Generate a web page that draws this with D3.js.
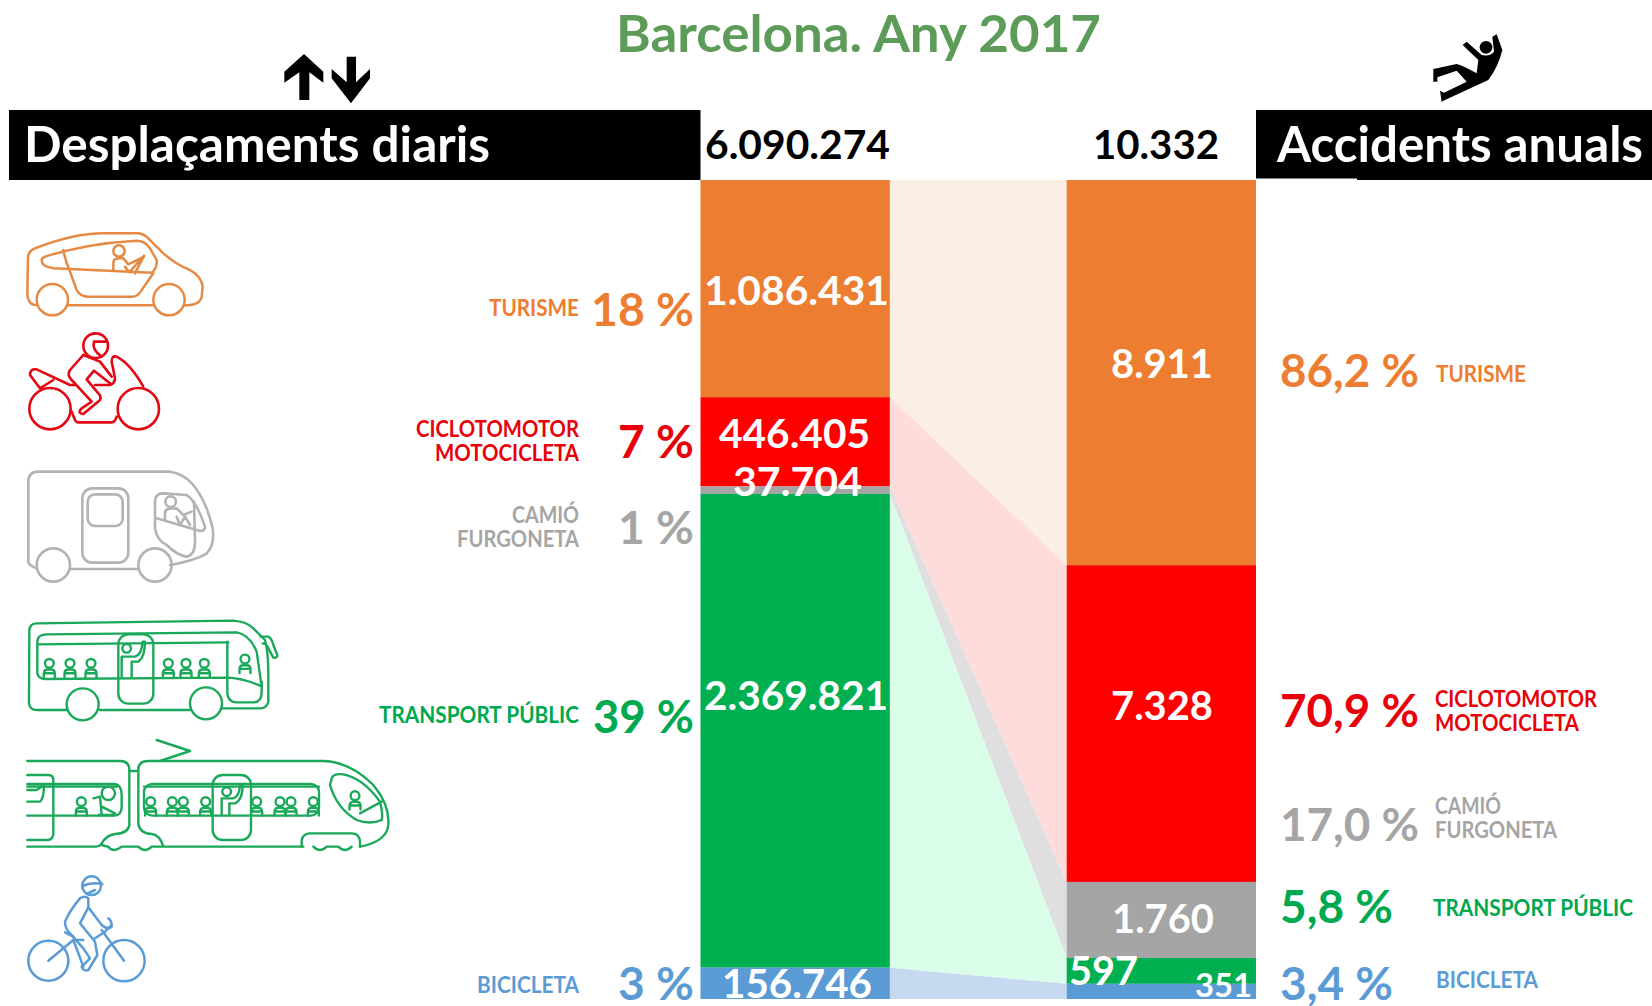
<!DOCTYPE html>
<html lang="ca">
<head>
<meta charset="utf-8">
<title>Barcelona. Any 2017</title>
<script src="https://cdn.jsdelivr.net/npm/d3@7"></script>
<style>
html,body{margin:0;padding:0;background:#fff;overflow:hidden}
text{font-family:Lato,"Open Sans",sans-serif;font-weight:700}
.ico *{fill:none;stroke-linecap:round;stroke-linejoin:round;vector-effect:non-scaling-stroke}
</style>
</head>
<body>
<svg id="chart" width="1652" height="1006" xmlns="http://www.w3.org/2000/svg"></svg>
<script>
// ---- Data ----
const modes = ["Turisme", "Ciclomotor/Motocicleta", "Camió/Furgoneta", "Transport públic", "Bicicleta"];
const modeLabels = [["TURISME"], ["CICLOTOMOTOR", "MOTOCICLETA"], ["CAMIÓ", "FURGONETA"], ["TRANSPORT PÚBLIC"], ["BICICLETA"]];
const dailyTrips = [1086431, 446405, 37704, 2369821, 156746];
const annualAccidents = [8911, 7328, 1760, 597, 351];
const tripShares = ["18 %", "7 %", "1 %", "39 %", "3 %"];
const accidentShares = ["86,2 %", "70,9 %", "17,0 %", "5,8 %", "3,4 %"];
const totalTrips = 6090274;
const totalAccidents = 10332;
const titleText = "Barcelona. Any 2017";
const headerLeft = "Desplaçaments diaris";
const headerRight = "Accidents anuals";

// ---- Styles and layout ----
const colors = ["#ed7d31", "#ff0000", "#a5a5a5", "#00b050", "#5b9bd5"];
const flowColors = ["#fbeee3", "#ffdcdc", "#dfdfdf", "#d9fde9", "#c6d9f0"];
const textColors = ["#ed7d31", "#e8000a", "#a5a5a5", "#00a84f", "#5b9bd5"];
const W = 1652, H = 1006, top0 = 180, bottom0 = 999;

const svg = d3.select("#chart");
const fmt = d3.formatLocale({decimal: ",", thousands: ".", grouping: [3], currency: ["", ""]}).format(",");

const cols = d3.scaleBand().domain(["trips", "accidents"]).range([700.5, 1256]).paddingInner(0.483).paddingOuter(0);
const yTrips = d3.scaleLinear().domain([0, d3.sum(dailyTrips)]).range([top0, bottom0]);
const yAcc = d3.scaleLinear().domain([0, d3.sum(annualAccidents)]).range([top0, bottom0]);

function stackOf(values) { let c = 0; return values.map(v => { const a = c; c += v; return [a, c]; }); }
const sTrips = stackOf(dailyTrips), sAcc = stackOf(annualAccidents);

// text helper: fits the string between x1 and x2
function put(str, x1, x2, base, size, fill, weight) {
  return svg.append("text").attr("x", x1).attr("y", base).attr("font-size", size)
    .attr("fill", fill).attr("font-weight", weight || 700)
    .attr("textLength", x2 - x1).attr("lengthAdjust", "spacingAndGlyphs").text(str);
}

// flows
const flowX0 = cols("trips") + cols.bandwidth(), flowX1 = cols("accidents");
const area = d3.area().x(d => d.x).y0(d => d.y0).y1(d => d.y1);
svg.append("g").selectAll("path").data(modes).join("path")
  .attr("fill", (d, i) => flowColors[i])
  .attr("d", (d, i) => area([
    {x: flowX0, y0: yTrips(sTrips[i][0]), y1: yTrips(sTrips[i][1])},
    {x: flowX1, y0: yAcc(sAcc[i][0]), y1: yAcc(sAcc[i][1])}
  ]));

// bars
svg.append("g").selectAll("rect").data(dailyTrips).join("rect")
  .attr("x", cols("trips")).attr("width", cols.bandwidth())
  .attr("y", (d, i) => yTrips(sTrips[i][0]))
  .attr("height", (d, i) => yTrips(sTrips[i][1]) - yTrips(sTrips[i][0]))
  .attr("fill", (d, i) => colors[i]);
svg.append("g").selectAll("rect").data(annualAccidents).join("rect")
  .attr("x", cols("accidents")).attr("width", cols.bandwidth())
  .attr("y", (d, i) => yAcc(sAcc[i][0]))
  .attr("height", (d, i) => yAcc(sAcc[i][1]) - yAcc(sAcc[i][0]))
  .attr("fill", (d, i) => colors[i]);

// headers
svg.append("rect").attr("x", 9).attr("y", 110).attr("width", 691.5).attr("height", 70).attr("fill", "#000");
svg.append("rect").attr("x", 1256).attr("y", 110).attr("width", 396).attr("height", 68.5).attr("fill", "#000");
svg.append("rect").attr("x", 1357).attr("y", 170).attr("width", 295).attr("height", 10).attr("fill", "#000");
put(headerLeft, 24, 490, 162, 49, "#fff");
put(headerRight, 1277, 1643, 162, 49, "#fff");
put(titleText, 616, 1101, 52, 52, "#5c9c58");
put(fmt(totalTrips), 705, 890, 159, 40, "#000");
put(fmt(totalAccidents), 1093, 1219, 159, 40, "#000");

// value labels in the bars
const tripValuePos = [[704, 889, 305, 41], [719, 870, 448, 41], [733, 862, 496, 41], [704, 888, 710, 41], [722, 872, 998, 41]];
dailyTrips.forEach((v, i) => { const p = tripValuePos[i]; put(fmt(v), p[0], p[1], p[2], p[3], "#fff"); });
const accValuePos = [[1111, 1213, 378, 41], [1111, 1213, 720, 41], [1112, 1214, 933, 41], [1069, 1138, 985, 41], [1195, 1252, 997, 32]];
annualAccidents.forEach((v, i) => { const p = accValuePos[i]; put(fmt(v), p[0], p[1], p[2], p[3], "#fff"); });

// left labels (right edge shared)
const leftLabelPos = [[[489, 316]], [[416, 437], [435, 461]], [[512, 523], [457, 547]], [[379, 723]], [[477, 993]]];
modeLabels.forEach((lines, i) => lines.forEach((s, j) => put(s, leftLabelPos[i][j][0], 579, leftLabelPos[i][j][1], 22.5, textColors[i])));
const leftPctPos = [[591, 326], [618, 458], [618, 544], [593, 733], [618, 1000]];
tripShares.forEach((s, i) => put(s, leftPctPos[i][0], 694, leftPctPos[i][1], 46, textColors[i]));

// right labels
const rightLabelPos = [[[1436, 1526, 382]], [[1435, 1597, 707], [1435, 1579, 731]], [[1435, 1501, 814], [1435, 1557, 838]], [[1433, 1633, 916]], [[1436, 1538, 988]]];
modeLabels.forEach((lines, i) => lines.forEach((s, j) => { const p = rightLabelPos[i][j]; put(s, p[0], p[1], p[2], 22.5, textColors[i]); }));
const rightPctPos = [[1280, 1419, 387], [1280, 1419, 727], [1280, 1419, 841], [1280, 1393, 923], [1280, 1393, 1000]];
accidentShares.forEach((s, i) => { const p = rightPctPos[i]; put(s, p[0], p[1], p[2], 46, textColors[i]); });

// ---- Pictograms (decoration, crop-scale drawing units) ----
function icon(x0, y0, color, sw) {
  const g = svg.append("g").attr("class", "ico").attr("transform", `translate(${x0},${y0}) scale(${1 / 3})`);
  const st = s => s.attr("stroke", color).attr("stroke-width", sw).style("fill", "none");
  return {
    p(d) { st(g.append("path").attr("d", d)); return this; },
    c(cx, cy, r) { st(g.append("circle").attr("cx", cx).attr("cy", cy).attr("r", r)); return this; },
    r(x, y, w, h, rx) { st(g.append("rect").attr("x", x).attr("y", y).attr("width", w).attr("height", h).attr("rx", rx)); return this; },
    sit(cx, cy, s) { // seated passenger
      const k = s || 1;
      this.c(cx, cy, 12 * k);
      return this.p(`M${cx - 15 * k} ${cy + 38 * k}V${cy + 28 * k}Q${cx - 15 * k} ${cy + 17 * k} ${cx - 4 * k} ${cy + 17 * k}H${cx + 4 * k}Q${cx + 15 * k} ${cy + 17 * k} ${cx + 15 * k} ${cy + 28 * k}V${cy + 38 * k}M${cx - 15 * k} ${cy + 27 * k}H${cx + 15 * k}`);
    }
  };
}

icon(20, 225, "#e58a45", 2.5)
  .p("M50 240C30 240 22 225 22 205L24 95Q26 78 45 70C110 45 180 25 250 25L350 25Q370 25 385 40L430 85Q470 120 510 135Q545 155 548 185L545 215Q540 240 495 241M145 241H400")
  .p("M75 95Q200 55 350 47Q375 47 390 70L410 105Q412 130 395 143L100 130Q65 125 65 105Q65 100 75 95Z")
  .p("M130 75Q135 105 150 140L170 195Q180 215 205 215L340 215Q355 213 365 195L400 145")
  .c(97, 224, 47).c(447, 224, 47).c(297, 78, 17)
  .p("M280 135V115Q280 100 297 100H310L325 118L372 95M315 125L328 142L360 105M345 145L372 92");

icon(20, 330, "#e30613", 2.6)
  .c(90, 236, 62).c(355, 236, 62).c(227, 47, 37)
  .p("M155 245L165 270Q168 277 175 277H275Q285 277 290 260")
  .p("M60 175L30 135Q30 115 50 118L150 165H165M60 175L100 150")
  .p("M370 170Q330 100 290 80Q275 75 275 95L285 145Q285 160 270 165H225")
  .p("M190 75L150 120Q140 135 155 150L215 215L185 235Q170 250 190 252L240 210Q245 200 235 190L200 148L222 122L270 160")
  .p("M190 75L240 95L275 140M222 35H258M222 35Q215 60 245 80");

icon(20, 465, "#b3b3b3", 2.6)
  .p("M50 310Q25 300 25 290V50Q25 20 55 20H450Q490 25 520 60Q560 110 578 190Q585 240 560 265Q530 285 450 300M150 312H355")
  .c(100, 300, 50).c(405, 300, 50)
  .r(187, 70, 138, 223, 30).r(203, 88, 105, 95, 22)
  .p("M405 110Q405 85 430 85L500 90Q530 110 555 185Q555 198 540 198L410 160")
  .p("M405 110V190Q410 225 440 240Q470 270 500 275Q525 270 525 230L522 110")
  .c(452, 110, 16)
  .p("M435 165V145Q435 130 455 130H470L490 150L515 140M470 155L480 180L495 155L510 180");

icon(20, 615, "#1aa85a", 2.4)
  .p("M140 285H50Q30 285 27 265L28 45Q30 25 50 25L640 17Q680 20 700 40L735 75Q745 110 745 180L745 260Q740 280 720 280H605M510 285H240")
  .c(188, 268, 48).c(558, 265, 48)
  .p("M52 175V80Q52 58 80 58L650 52Q690 60 710 110L725 215M52 88L625 82M52 175Q55 192 75 192L620 188Q670 190 720 212")
  .r(295, 58, 105, 208, 30)
  .p("M622 80V235Q625 262 650 262H700Q725 262 725 230V200")
  .p("M722 65H745Q755 70 760 90L772 120Q772 130 760 128L745 100Q740 85 728 85")
  .sit(88, 145, 1.1).sit(150, 145, 1.1).sit(213, 145, 1.1).sit(445, 145, 1.1).sit(498, 145, 1.1).sit(553, 145, 1.1).sit(675, 132, 1.1)
  .c(320, 100, 13)
  .p("M305 185V125H345Q365 120 368 80L375 80Q375 125 355 140H335V185");

icon(20, 735, "#1aa85a", 2.4)
  .p("M22 78H300Q328 78 328 105V270Q325 295 285 297Q260 300 245 325Q240 335 225 335H22")
  .p("M355 100Q358 78 385 78H910Q990 80 1060 150Q1110 210 1105 270Q1100 320 1020 335")
  .p("M328 108H355M355 100V265Q358 295 395 297Q420 300 430 335H850")
  .p("M245 330Q262 335 265 335Q280 355 305 335H355Q375 355 395 335H425")
  .p("M845 335V315Q850 295 870 295H995Q1018 295 1020 320V335M880 335Q900 355 920 335H955Q975 355 995 335")
  .p("M22 315H85Q100 312 100 295V135Q100 120 85 120H22")
  .p("M22 147H285Q305 150 305 180V215Q305 242 280 242H22M22 155H290")
  .r(372, 147, 525, 95, 25).p("M372 155H897")
  .r(578, 120, 115, 195, 30)
  .p("M935 130Q940 115 970 118Q1030 130 1080 200Q1090 240 1085 255Q1050 270 1010 255Q950 220 930 150ZM1020 235L1085 200")
  .p("M410 15L510 48L420 78")
  .sit(184, 200, 1.1).sit(392, 200, 1.1).sit(457, 200, 1.1).sit(490, 200, 1.1).sit(557, 200, 1.1).sit(710, 200, 1.1).sit(780, 200, 1.1).sit(813, 200, 1.1).sit(880, 200, 1.1).sit(1005, 182, 1.1)
  .c(620, 170, 13)
  .p("M605 240V190H640Q658 185 660 150H668Q668 195 645 205H628V240")
  .p("M22 165H50L72 150Q72 190 60 200H22")
  .c(265, 175, 20)
  .p("M220 190L240 185L245 240M235 240H280M245 215L285 235");

icon(20, 870, "#5b9bd5", 2.5)
  .c(85, 272, 60).c(312, 272, 62).c(215, 47, 28)
  .p("M187 48Q215 35 247 42M200 72L225 60")
  .p("M180 85Q150 120 135 155Q135 175 150 190L190 235L210 265L185 290Q190 305 205 300L232 255L225 215L180 160L205 112L245 165Q262 180 275 170Q275 150 265 145")
  .p("M180 85Q195 75 205 85L205 112")
  .p("M85 272L160 210L190 290M160 200L135 187M160 210H190M312 272L245 180M225 205L255 185L275 165");

// arrows and falling figure
const solid = (tx, ty, d) => svg.append("path").attr("transform", `translate(${tx},${ty}) scale(${1 / 3})`).attr("d", d).attr("fill", "#000");
solid(270, 45, "M43 80L102 27L160 80V113L118 82V165H88V82L43 113Z");
solid(270, 45, "M230 35H258V112L300 72V100L243 175L185 100V72L230 112Z");
solid(1240, 0, "M668 135L680 125L725 165Q750 170 762 155L757 110L770 103L787 150Q775 200 745 240L615 300L605 305L600 272L612 278L680 245L650 212L592 232V245L580 245V207L650 192Q665 195 710 220L715 180Z");
svg.append("circle").attr("cx", 1240 + 738 / 3).attr("cy", 142 / 3).attr("r", 19 / 3).attr("fill", "#000");
</script>
</body>
</html>
